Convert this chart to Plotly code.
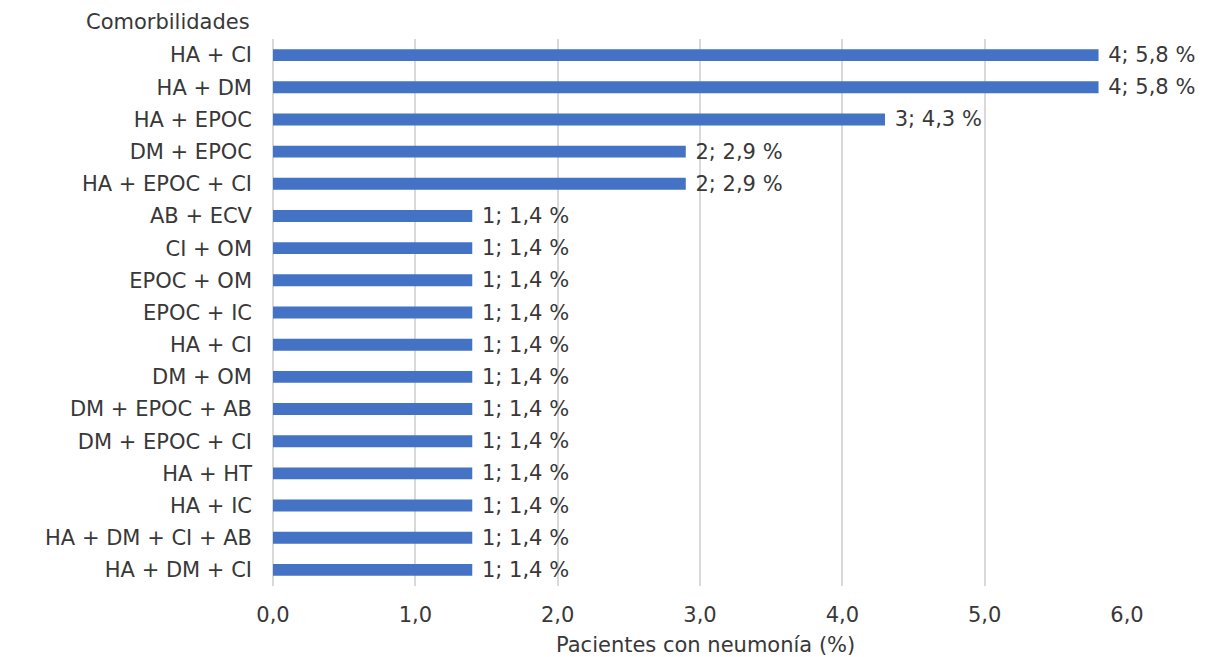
import plotly.graph_objects as go

categories = ["HA + CI", "HA + DM", "HA + EPOC", "DM + EPOC", "HA + EPOC + CI",
              "AB + ECV", "CI + OM", "EPOC + OM", "EPOC + IC", "HA + CI",
              "DM + OM", "DM + EPOC + AB", "DM + EPOC + CI", "HA + HT", "HA + IC",
              "HA + DM + CI + AB", "HA + DM + CI"]
counts = [4, 4, 3, 2, 2, 1, 1, 1, 1, 1, 1, 1, 1, 1, 1, 1, 1]
percents = [5.8, 5.8, 4.3, 2.9, 2.9, 1.4, 1.4, 1.4, 1.4, 1.4, 1.4, 1.4, 1.4, 1.4, 1.4, 1.4, 1.4]
x_ticks = [0, 1, 2, 3, 4, 5, 6]

positions = list(range(len(categories)))
labels = ["\u00a0" + f"{c}; {p:.1f} %".replace(".", ",") for c, p in zip(counts, percents)]

FONT = "DejaVu Sans"
TXT = "#383838"
SIZE = 21

fig = go.Figure(go.Bar(
    x=percents, y=positions, orientation="h",
    marker=dict(color="#4472C4", line=dict(width=0)),
    width=0.37,
    text=labels, textposition="outside", cliponaxis=False,
    constraintext="none",
    textfont=dict(family=FONT, size=SIZE, color=TXT),
))

fig.update_layout(
    width=1218, height=657,
    margin=dict(l=273, r=91, t=39, b=71),
    paper_bgcolor="white", plot_bgcolor="white",
    separators=",.",
    showlegend=False,
    font=dict(family=FONT, size=SIZE, color=TXT),
    xaxis=dict(range=[0, 6.0], tickvals=x_ticks, tickformat=".1f",
               showgrid=True, gridcolor="#d9d9d9", gridwidth=1.5,
               zeroline=True, zerolinecolor="#d9d9d9", zerolinewidth=1.5,
               showline=False, ticks="", ticklabelstandoff=14,
               tickfont=dict(family=FONT, size=SIZE, color=TXT)),
    yaxis=dict(range=[16.5, -0.5], tickvals=positions, ticktext=categories,
               showgrid=False, zeroline=False, showline=False, ticks="",
               ticklabelstandoff=20,
               tickfont=dict(family=FONT, size=SIZE, color=TXT)),
    annotations=[
        dict(text="Comorbilidades", xref="paper", yref="paper",
             x=-0.0246, y=1.031, xanchor="right", yanchor="middle",
             showarrow=False, font=dict(family=FONT, size=SIZE, color=TXT)),
        dict(text="Pacientes con neumonía (%)", xref="paper", yref="paper",
             x=0.507, y=-0.108, xanchor="center", yanchor="middle",
             showarrow=False, font=dict(family=FONT, size=SIZE, color=TXT)),
    ],
)

fig.write_html("out.html")
